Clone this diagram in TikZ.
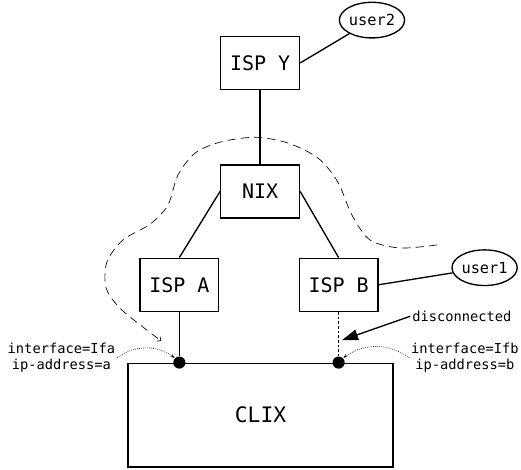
\documentclass[tikz,border=0pt]{standalone}
\usepackage{fontspec}
\setmonofont{DejaVu Sans Mono}
\usetikzlibrary{arrows.meta, shapes.geometric}

\tikzset{
  ispbox/.style={draw, minimum width=2.08cm, minimum height=1.40cm, inner sep=0pt,
    font=\ttfamily\fontsize{15}{18}\selectfont},
  userbox/.style={draw, ellipse, minimum width=1.70cm, minimum height=0.94cm, inner sep=0pt,
    font=\ttfamily\fontsize{11.5}{13}\selectfont},
  port/.style={circle, fill=black, inner sep=0pt, minimum size=0.32cm},
  note/.style={font=\ttfamily\fontsize{10.3}{12}\selectfont, align=center, inner sep=1pt},
}

\begin{document}
\begin{tikzpicture}[line width=1pt]
  \useasboundingbox (0,0) rectangle (13.74,12.37);

  % routers and users
  \node[ispbox] (ispy) at (6.86,10.71) {ISP Y};
  \node[userbox] (user2) at (9.81,11.84) {user2};
  \node[ispbox] (nix) at (6.86,7.32) {NIX};
  \node[ispbox] (ispa) at (4.73,4.86) {ISP A};
  \node[ispbox] (ispb) at (8.93,4.86) {ISP B};
  \node[userbox] (user1) at (12.78,5.31) {user1};

  % exchange
  \node[draw, minimum width=6.99cm, minimum height=2.74cm, inner sep=0pt,
    font=\ttfamily\fontsize{16}{19}\selectfont] (clix) at (6.87,1.42) {CLIX};

  \draw (ispy) -- (nix);
  \draw (ispy.east) -- (user2);
  \draw (nix.west) -- (ispa.north);
  \draw (nix.east) -- (ispb.north);
  \draw (ispb.east) -- (user1);

  % ports on CLIX
  \node[port] (dota) at (ispa |- clix.north) {};
  \node[port] (dotb) at (ispb |- clix.north) {};
  \draw (ispa) -- (dota);
  \draw[line width=0.8pt, dash pattern=on 2pt off 1.5pt] (ispb) -- (dotb);

  % labels
  \node[note] (lbla) at (1.62,2.94) {interface=Ifa\\ip-address=a};
  \node[note] (lblb) at (12.26,2.94) {interface=Ifb\\ip-address=b};
  \node[note] (disc) at (12.18,4.03) {disconnected};
  \coordinate (cut) at (9.02,3.40);

  \draw[-{Triangle[length=12pt,width=8pt]}] (disc.west) -- (cut);
  \draw[densely dotted, line width=0.5pt, -{Stealth[length=3pt]}] (lbla.east) to[bend left=35] (dota.north west);
  \draw[densely dotted, line width=0.5pt, -{Stealth[length=3pt]}] (lblb.west) to[bend right=35] (dotb.north east);

  % route around NIX
  \draw[dash pattern=on 6pt off 4pt, line width=0.5pt, -{Straight Barb[angle=90:3pt]}]
    plot[smooth] coordinates {(11.52,5.91) (10.55,5.83) (9.76,6.04) (9.28,6.70) (8.91,7.57)
      (8.39,8.20) (7.59,8.60) (6.72,8.75) (5.80,8.62) (5.14,8.33) (4.69,7.75) (4.43,6.96)
      (3.96,6.46) (3.24,6.04) (2.82,5.46) (2.80,4.77) (3.22,4.19) (4.25,3.38)};
\end{tikzpicture}
\end{document}
